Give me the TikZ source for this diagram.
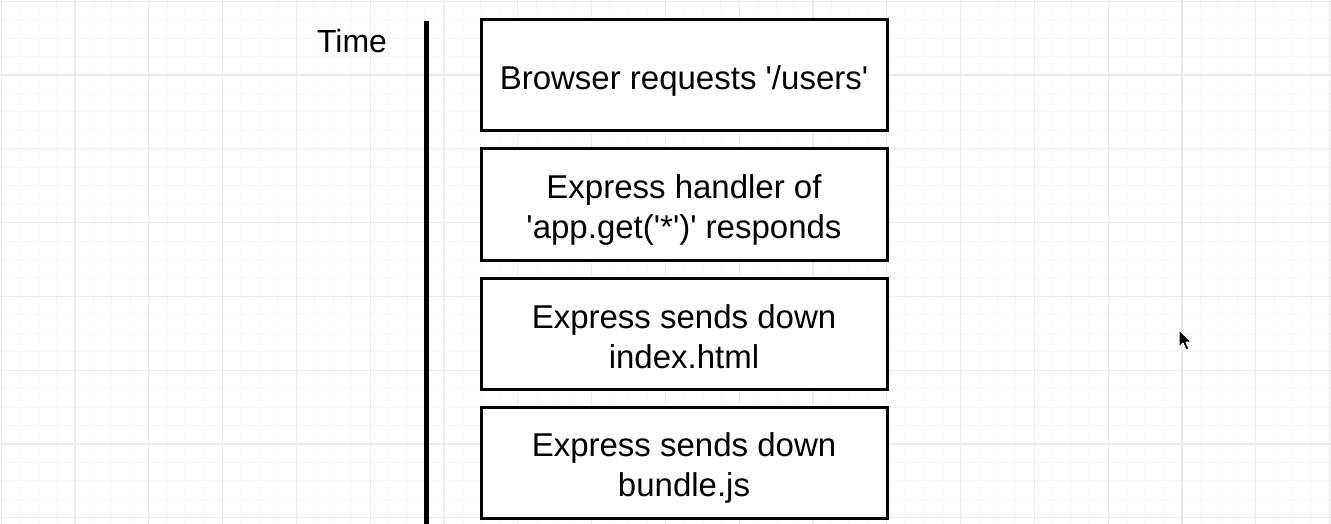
\documentclass[tikz,border=0pt]{standalone}
\usepackage{fontspec}
\setmainfont{Liberation Sans}
\newcommand{\sq}{\textquotesingle}
\newcommand{\bt}[1]{\raisebox{0pt}[\dimexpr\height+12pt\relax][\depth]{\begin{tabular}{@{}c@{}}#1\end{tabular}}}
\begin{document}
\begin{tikzpicture}[x=1pt,y=-1pt,
  stepbox/.style={draw=black, line width=3pt, fill=white, minimum width=406pt, minimum height=111pt,
    inner sep=0pt, font=\fontsize{33}{40}\selectfont},
  minorgrid/.style={draw={rgb,255:red,247;green,247;blue,247}, line width=1pt},
  majorgrid/.style={draw={rgb,255:red,236;green,236;blue,236}, line width=1.2pt}]
\useasboundingbox (0,0) rectangle (1331,524);
\fill[white] (0,0) rectangle (1331,524);
% grid
\foreach \i in {0,...,72} {
  \pgfmathsetmacro{\xx}{1.2+\i*18.45}
  \draw[minorgrid] (\xx,0) -- (\xx,524);
}
\foreach \i in {0,...,28} {
  \pgfmathsetmacro{\yy}{1.2+\i*18.45}
  \draw[minorgrid] (0,\yy) -- (1331,\yy);
}
\foreach \i in {0,...,18} {
  \pgfmathsetmacro{\xx}{1.2+\i*73.8}
  \draw[majorgrid] (\xx,0) -- (\xx,524);
}
\foreach \i in {0,...,7} {
  \pgfmathsetmacro{\yy}{1.2+\i*73.8}
  \draw[majorgrid] (0,\yy) -- (1331,\yy);
}
% time axis
\coordinate (axtop) at (426,21);
\coordinate (axbot) at (426,524);
\draw[line width=5pt] (axtop) -- (axbot);
\node[font=\fontsize{32}{38}\selectfont, anchor=base] (time) at (352,53) {Time};
% boxes
\node[stepbox] (b1) at (684,75.5) {\bt{Browser requests \sq/users\sq}};
\node[stepbox] (b2) at (684,204.5) {\bt{Express handler of\\\sq app.get(\sq*\sq)\sq{} responds}};
\node[stepbox] (b3) at (684,334) {\bt{Express sends down\\index.html}};
\node[stepbox] (b4) at (684,462.5) {\bt{Express sends down\\bundle.js}};
% cursor
\filldraw[fill=black, draw=white, line width=1pt, line join=round]
  (1179,330) -- (1179,347) -- (1183,343) -- (1186,350) -- (1189,349) -- (1186,342) -- (1191,342) -- cycle;
\end{tikzpicture}
\end{document}
